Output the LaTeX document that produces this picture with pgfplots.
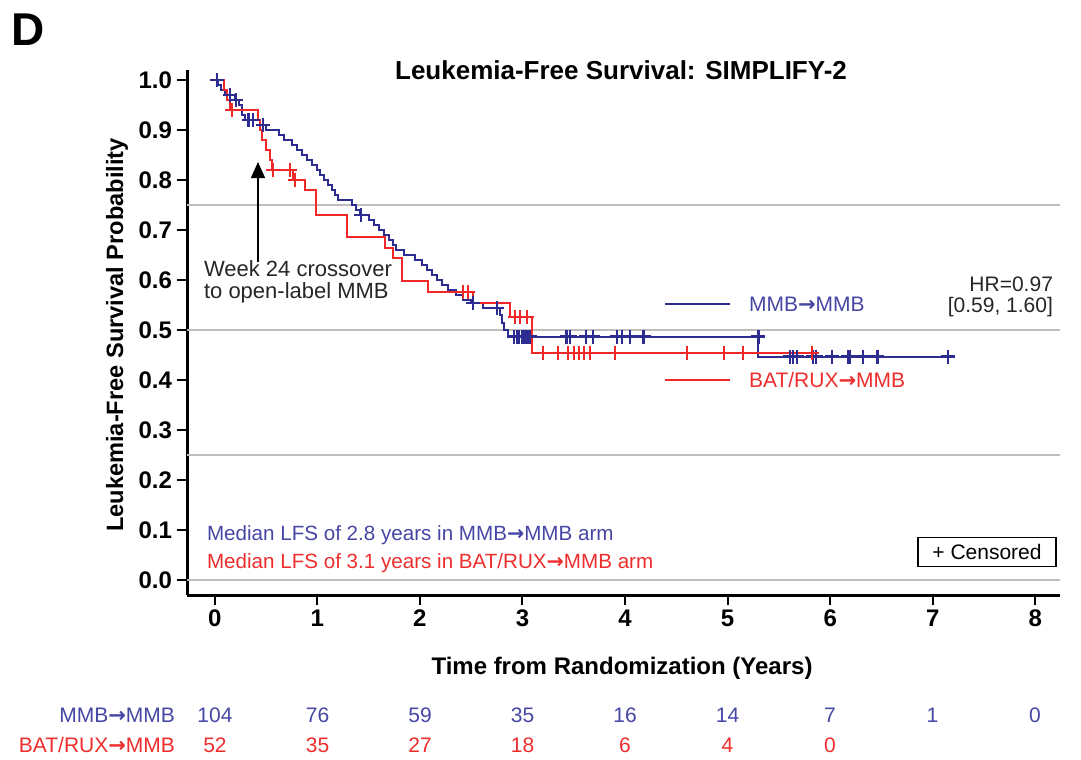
\documentclass[border=0pt]{standalone}
\usepackage{fontspec}
\setmainfont{Liberation Sans}
\newfontfamily\dejavu{DejaVu Sans}
\usepackage{pgfplots}
\pgfplotsset{compat=1.18}
\usetikzlibrary{arrows.meta}
\definecolor{kmblue}{RGB}{45,45,145}
\definecolor{kmred}{RGB}{240,40,40}
\definecolor{txtblue}{RGB}{70,70,165}
\definecolor{txtred}{RGB}{238,45,45}
\definecolor{gridgray}{RGB}{190,190,190}
\newcommand{\fs}[1]{\fontsize{#1}{#1}\selectfont}
\newcommand{\ar}{{\dejavu\bfseries →}}
\begin{document}
\begin{tikzpicture}
\begin{scope}[x=0.5pt,y=-0.5pt]
\path[use as bounding box] (0,0) rectangle (1081,756);
\end{scope}
\begin{axis}[
  at={(93.5pt,-297.5pt)}, anchor=south west,
  scale only axis, width=436.5pt, height=262.5pt,
  xmin=-0.27, xmax=8.24, ymin=-0.03, ymax=1.02,
  axis x line*=bottom, axis y line*=left,
  axis line style={line width=1.5pt, -},
  xtick={0,1,2,3,4,5,6,7,8},
  ytick={0,0.1,0.2,0.3,0.4,0.5,0.6,0.7,0.8,0.9,1.0},
  tick align=outside, major tick length=5pt,
  tick style={line width=1pt, black},
  ticklabel style={font=\bfseries\fs{12}},
  /pgf/number format/assume math mode=true,
  yticklabel style={/pgf/number format/fixed, /pgf/number format/fixed zerofill, /pgf/number format/precision=1, xshift=1pt},
  xticklabel style={yshift=1pt},
  extra y ticks={0,0.25,0.5,0.75}, extra y tick labels={},
  extra y tick style={grid=major, major grid style={gridgray, line width=0.8pt}, tick style={draw=none}},
  clip=false,
]
\addplot[kmblue, line width=1pt, const plot, mark=none] coordinates {
(0,1.0)(0.03,0.99)(0.06,0.98)(0.1,0.97)(0.2,0.96)(0.24,0.95)(0.27,0.93)(0.3,0.92)(0.44,0.91)(0.5,0.90)(0.63,0.89)(0.68,0.88)(0.75,0.87)(0.8,0.86)(0.85,0.85)(0.9,0.84)(0.95,0.83)(1.0,0.82)(1.03,0.81)(1.07,0.80)(1.1,0.79)(1.14,0.78)(1.17,0.77)(1.2,0.76)(1.34,0.75)(1.38,0.74)(1.42,0.73)(1.5,0.72)(1.55,0.71)(1.6,0.70)(1.65,0.69)(1.7,0.68)(1.74,0.67)(1.77,0.66)(1.85,0.65)(1.95,0.64)(2.02,0.63)(2.07,0.62)(2.12,0.61)(2.17,0.60)(2.22,0.59)(2.27,0.58)(2.35,0.57)(2.42,0.56)(2.5,0.554)(2.62,0.544)(2.78,0.53)(2.8,0.515)(2.82,0.50)(2.86,0.487)(5.3,0.447)(7.15,0.447)
};
\addplot[kmred, line width=1pt, const plot, mark=none] coordinates {
(0,1.0)(0.09,0.98)(0.12,0.96)(0.15,0.94)(0.42,0.92)(0.44,0.90)(0.46,0.88)(0.5,0.86)(0.54,0.84)(0.56,0.82)(0.76,0.80)(0.88,0.78)(0.99,0.73)(1.29,0.686)(1.66,0.664)(1.74,0.644)(1.83,0.598)(2.08,0.576)(2.52,0.554)(2.88,0.526)(3.09,0.455)(5.82,0.455)
};
\addplot[kmblue, only marks, mark=+, mark size=3.5pt, line width=1.1pt] coordinates {
(0.02,1.0)(0.15,0.97)(0.21,0.96)(0.33,0.92)(0.37,0.92)(0.47,0.91)(1.43,0.73)(2.52,0.554)(2.75,0.544)(2.92,0.487)(2.95,0.487)(2.97,0.487)(3.0,0.487)(3.02,0.487)(3.05,0.487)(3.07,0.487)(3.43,0.487)(3.46,0.487)(3.62,0.487)(3.69,0.487)(3.92,0.487)(3.97,0.487)(4.05,0.487)(4.18,0.487)(5.3,0.487)(5.61,0.447)(5.64,0.447)(5.68,0.447)(5.83,0.447)(5.86,0.447)(6.02,0.447)(6.17,0.447)(6.19,0.447)(6.32,0.447)(6.46,0.447)(7.15,0.447)
};
\addplot[kmred, only marks, mark=+, mark size=3.5pt, line width=1pt] coordinates {
(0.17,0.94)(0.57,0.82)(0.73,0.82)(0.78,0.80)(2.42,0.576)(2.47,0.576)(2.93,0.526)(2.98,0.526)(3.04,0.526)(3.2,0.455)(3.35,0.455)(3.44,0.455)(3.5,0.455)(3.55,0.455)(3.6,0.455)(3.66,0.455)(3.9,0.455)(4.6,0.455)(4.96,0.455)(5.15,0.455)(5.82,0.455)
};
\end{axis}
\begin{scope}[x=0.5pt,y=-0.5pt]
\node[font=\bfseries\fs{23}] at (28,30) {D};
\node[font=\bfseries\fs{13}] at (621,70) {Leukemia-Free Survival: SIMPLIFY-2};
\node[font=\bfseries\fs{11.8}, rotate=90] at (117,335) {Leukemia-Free Survival Probability};
\node[font=\bfseries\fs{12}] at (622,668) {Time from Randomization (Years)};
\node[font=\fs{11}, anchor=west, align=left, text=black!85] at (197,282) {Week 24 crossover\\[0pt]to open-label MMB};
\draw[-{Triangle[length=8pt,width=7pt]}, line width=0.7pt] (258,262) -- (258,162);
\node[font=\fs{10.5}, anchor=east, align=right, text=black!85] at (1060,297) {HR=0.97\\[0pt]{[0.59, 1.60]}};
\draw[kmblue, line width=1pt] (665,304) -- (730,304);
\node[font=\fs{10.5}, anchor=west, text=txtblue] at (742,304) {MMB\ar MMB};
\draw[kmred, line width=1pt] (665,380) -- (730,380);
\node[font=\fs{10.5}, anchor=west, text=txtred] at (742,380) {BAT/RUX\ar MMB};
\node[font=\fs{10.3}, anchor=west, text=txtblue] at (200,535) {Median LFS of 2.8 years in MMB\ar MMB arm};
\node[font=\fs{10.3}, anchor=west, text=txtred] at (200,563) {Median LFS of 3.1 years in BAT/RUX\ar MMB arm};
\node[font=\fs{10.5}, draw=black, line width=0.8pt, minimum width=69pt, minimum height=14.5pt, inner sep=1pt] at (987,552) {+ Censored};
\node[font=\fs{10.5}, anchor=east, text=txtblue] at (182,715) {MMB\ar MMB};
\node[font=\fs{10.5}, anchor=east, text=txtred] at (182,745) {BAT/RUX\ar MMB};
\foreach \n [count=\i from 0] in {104,76,59,35,16,14,7,1,0}
  \node[font=\fs{10.5}, text=txtblue] at ({215+102.5*\i},715) {\n};
\foreach \n [count=\i from 0] in {52,35,27,18,6,4,0}
  \node[font=\fs{10.5}, text=txtred] at ({215+102.5*\i},745) {\n};
\end{scope}
\end{tikzpicture}
\end{document}
